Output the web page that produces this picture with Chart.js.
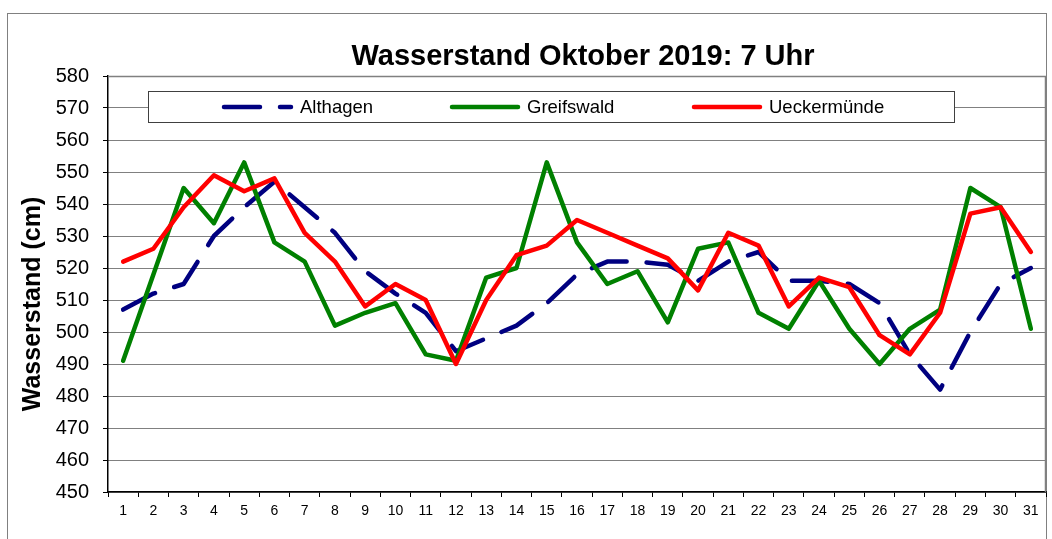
<!DOCTYPE html>
<html>
<head>
<meta charset="utf-8">
<script src="https://cdn.jsdelivr.net/npm/chart.js@4/dist/chart.umd.min.js"></script>
<style>
  html, body { margin: 0; padding: 0; background: #fff; }
  canvas { display: block; }
</style>
</head>
<body>
<canvas id="c" width="1052" height="539"></canvas>
<script>
const chartTitle = "Wasserstand Oktober 2019: 7 Uhr";
const yAxisTitle = "Wasserstand (cm)";
const days = ["1","2","3","4","5","6","7","8","9","10","11","12","13","14","15","16","17","18","19","20","21","22","23","24","25","26","27","28","29","30","31"];
const seriesNames = ["Althagen", "Greifswald", "Ueckermünde"];
const althagen = [507,512,515,530,539,547,539,531,519,512,506,494,498,502,509,518,522,522,521,516,522,525,516,516,515,509,493,482,500,515,520];
const greifswald = [491,518,545,534,553,528,522,502,506,509,493,491,517,520,553,528,515,519,503,526,528,506,501,516,501,490,501,507,545,539,501];
const ueckermuende = [522,526,539,549,544,548,531,522,508,515,510,490,510,524,527,535,531,527,523,513,531,527,508,517,514,499,493,506,537,539,525];
const yMin = 450, yMax = 580, yStep = 10;

const FONT = "'Liberation Sans', Arial, sans-serif";

const decor = {
  id: 'decor',
  beforeDraw(chart) {
    const ctx = chart.ctx;
    ctx.save();
    ctx.fillStyle = '#fff';
    ctx.fillRect(0, 0, chart.width, chart.height);
    ctx.strokeStyle = '#808080';
    ctx.lineWidth = 1;
    ctx.strokeRect(7.5, 13.5, 1039, 540);
    ctx.restore();
  },
  beforeDatasetsDraw(chart) {
    const ctx = chart.ctx;
    const a = chart.chartArea;
    ctx.save();
    ctx.strokeStyle = '#808080';
    ctx.lineWidth = 1.5;
    ctx.beginPath();
    ctx.moveTo(a.left, a.top + 0.5);
    ctx.lineTo(a.right - 0.5, a.top + 0.5);
    ctx.lineTo(a.right - 0.5, a.bottom);
    ctx.stroke();
    const lx = 148.5, ly = 91.5, lw = 806, lh = 31;
    ctx.fillStyle = '#fff';
    ctx.fillRect(lx, ly, lw, lh);
    ctx.strokeStyle = '#404040';
    ctx.lineWidth = 1;
    ctx.strokeRect(lx, ly, lw, lh);
    const items = [
      { sx: 224, ex: 291, tx: 300 },
      { sx: 452, ex: 518, tx: 527 },
      { sx: 694, ex: 760, tx: 769 }
    ];
    const cy = 107;
    chart.data.datasets.forEach((ds, i) => {
      const it = items[i];
      ctx.save();
      ctx.strokeStyle = ds.borderColor;
      ctx.lineWidth = ds.borderWidth;
      ctx.lineCap = 'round';
      if (ds.borderDash && ds.borderDash.length) ctx.setLineDash([36, 20]);
      ctx.beginPath();
      ctx.moveTo(it.sx, cy);
      ctx.lineTo(it.ex, cy);
      ctx.stroke();
      ctx.restore();
      ctx.fillStyle = '#000';
      ctx.font = '18.5px ' + FONT;
      ctx.textBaseline = 'middle';
      ctx.textAlign = 'left';
      ctx.fillText(ds.label, it.tx, cy + 1);
    });
    ctx.restore();
  },
  afterDraw(chart) {
    const ctx = chart.ctx;
    ctx.save();
    ctx.fillStyle = '#000';
    ctx.font = 'bold 29px ' + FONT;
    ctx.textAlign = 'center';
    ctx.textBaseline = 'alphabetic';
    ctx.fillText(chartTitle, 583, 65);
    ctx.translate(33, 304);
    ctx.rotate(-Math.PI / 2);
    ctx.font = 'bold 25px ' + FONT;
    ctx.textBaseline = 'middle';
    ctx.fillText(yAxisTitle, 0, 0);
    ctx.restore();
  }
};

new Chart(document.getElementById('c'), {
  type: 'line',
  data: {
    labels: days,
    datasets: [
      { label: seriesNames[0], data: althagen, borderColor: '#000080', borderWidth: 4.5, borderDash: [36, 20], borderCapStyle: 'round', borderJoinStyle: 'round', pointRadius: 0, tension: 0, fill: false, order: 2 },
      { label: seriesNames[1], data: greifswald, borderColor: '#008000', borderWidth: 4.5, borderCapStyle: 'round', borderJoinStyle: 'round', pointRadius: 0, tension: 0, fill: false, order: 1 },
      { label: seriesNames[2], data: ueckermuende, borderColor: '#ff0000', borderWidth: 4.5, borderCapStyle: 'round', borderJoinStyle: 'round', pointRadius: 0, tension: 0, fill: false, order: 0 }
    ]
  },
  options: {
    responsive: false,
    animation: false,
    devicePixelRatio: 1,
    layout: { padding: { top: 76, right: 6, left: 0, bottom: 0 } },
    plugins: { legend: { display: false }, title: { display: false }, tooltip: { enabled: false } },
    scales: {
      x: {
        type: 'category',
        offset: true,
        afterFit(s) { s.height = 47; },
        grid: { offset: true, drawOnChartArea: false, drawTicks: true, tickLength: 5, tickColor: '#000', tickWidth: 1 },
        border: { display: true, color: '#000', width: 1.5 },
        ticks: { autoSkip: false, maxRotation: 0, minRotation: 0, padding: 6, color: '#000', font: { family: FONT, size: 14 } }
      },
      y: {
        min: yMin,
        max: yMax,
        afterFit(s) { s.width = 108; },
        grid: {
          drawOnChartArea: true,
          color: (c) => (c.tick && c.tick.value === yMax) ? 'rgba(0,0,0,0)' : '#000',
          lineWidth: 1,
          tickLength: 5,
          tickColor: '#000',
          tickWidth: 1
        },
        border: { display: true, color: '#000', width: 1.5, dash: [1, 1] },
        ticks: { stepSize: yStep, padding: 14, color: '#000', font: { family: FONT, size: 20 } }
      }
    }
  },
  plugins: [decor]
});
</script>
</body>
</html>
